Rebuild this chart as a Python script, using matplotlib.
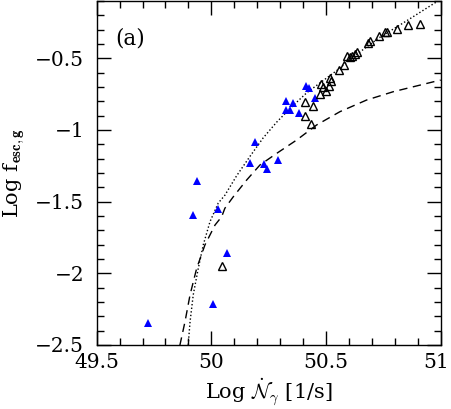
import matplotlib
matplotlib.use("Agg")
from matplotlib import pyplot as plt
from matplotlib.ticker import MultipleLocator
from matplotlib.transforms import ScaledTranslation

plt.rcParams["font.family"] = ["DejaVu Serif"]
plt.rcParams["mathtext.fontset"] = "cm"

# blue filled triangles
azul_x = [49.724, 50.009, 50.068, 50.029, 49.920, 49.937, 50.168, 50.190, 50.230, 50.243,
          50.291, 50.327, 50.356, 50.325, 50.343, 50.380, 50.413, 50.426, 50.452]
azul_y = [-2.347, -2.211, -1.858, -1.551, -1.590, -1.356, -1.230, -1.084, -1.237, -1.272,
          -1.209, -0.796, -0.812, -0.860, -0.863, -0.879, -0.693, -0.707, -0.777]

# open triangles
aberto_x = [50.048, 50.409, 50.442, 50.408, 50.436, 50.477, 50.485, 50.518, 50.523, 50.500,
            50.515, 50.472, 50.557, 50.580, 50.592, 50.606, 50.615, 50.626, 50.636, 50.684,
            50.692, 50.729, 50.757, 50.767, 50.808, 50.858, 50.908]
aberto_y = [-1.952, -0.808, -0.830, -0.900, -0.958, -0.676, -0.700, -0.639, -0.658, -0.731,
            -0.693, -0.750, -0.584, -0.544, -0.482, -0.494, -0.485, -0.470, -0.458, -0.390,
            -0.377, -0.344, -0.318, -0.318, -0.292, -0.269, -0.258]

# dotted curve
ponto_x = [49.890, 49.899, 49.907, 49.921, 49.943, 49.965, 49.994, 50.030, 50.059, 50.110,
           50.168, 50.226, 50.285, 50.343, 50.416, 50.547, 50.619, 50.728, 50.850, 50.983, 51.0]
ponto_y = [-2.65, -2.50, -2.34, -2.15, -1.965, -1.80, -1.64, -1.51, -1.455, -1.32,
           -1.185, -1.055, -0.945, -0.85, -0.74, -0.585, -0.49, -0.36, -0.24, -0.105, -0.09]

# dashed curve
traco_x = [49.855, 49.863, 49.885, 49.907, 49.936, 49.972, 50.016, 50.045, 50.059, 50.096,
           50.154, 50.212, 50.285, 50.372, 50.430, 50.459, 50.561, 50.677, 50.793, 50.983, 51.0]
traco_y = [-2.60, -2.50, -2.338, -2.151, -1.965, -1.802, -1.663, -1.605, -1.546, -1.465,
           -1.349, -1.244, -1.163, -1.070, -1.000, -0.965, -0.872, -0.791, -0.733, -0.658, -0.652]

fig = plt.figure(figsize=(4.52, 4.09), dpi=100)
ax = fig.add_axes([0.2139, 0.1565, 0.7611, 0.8411])

ax.plot(ponto_x, ponto_y, color="black", lw=1.0, linestyle=(0, (1, 1.6)))
ax.plot(traco_x, traco_y, color="black", lw=1.0, linestyle=(0, (6, 4)))
ax.plot(azul_x, azul_y, "^", color="#0000ff", markersize=6, markeredgewidth=0)
ax.plot(aberto_x, aberto_y, "^", markerfacecolor="none", markeredgecolor="black",
        markersize=6, markeredgewidth=1.0)

ax.set_xlim(49.5, 51)
ax.set_ylim(-2.5, -0.1)
ax.xaxis.set_minor_locator(MultipleLocator(0.1))
ax.yaxis.set_minor_locator(MultipleLocator(0.1))
ax.set_xticks([49.5, 50, 50.5, 51], ["49.5", "50", "50.5", "51"])
ax.set_yticks([-2.5, -2, -1.5, -1, -0.5], ["\u22122.5", "\u22122", "\u22121.5", "\u22121", "\u22120.5"])
ax.tick_params(which="both", direction="in", top=True, right=True, labelsize=14.5)
ax.tick_params(which="major", length=10, width=1)
ax.tick_params(which="minor", length=5, width=1)
ax.tick_params(axis="x", pad=6)
ax.tick_params(axis="y", pad=9)
for s in ax.spines.values():
    s.set_linewidth(1)

# o "51" fica encostado na borda, puxa um pouco para dentro
ultimo = ax.get_xticklabels()[-1]
ultimo.set_transform(ultimo.get_transform() + ScaledTranslation(-3 / 72, 0, fig.dpi_scale_trans))

ax.set_xlabel(r"Log $\dot{\mathcal{N}}_\gamma$ [1/s]", fontsize=15, labelpad=3)
ax.set_ylabel(r"Log f$_{\mathbf{esc,g}}$", fontsize=15, labelpad=6)
ax.text(0.053, 0.892, "(a)", transform=ax.transAxes, fontsize=15.5, va="center")

fig.savefig("out.png", dpi=100)
